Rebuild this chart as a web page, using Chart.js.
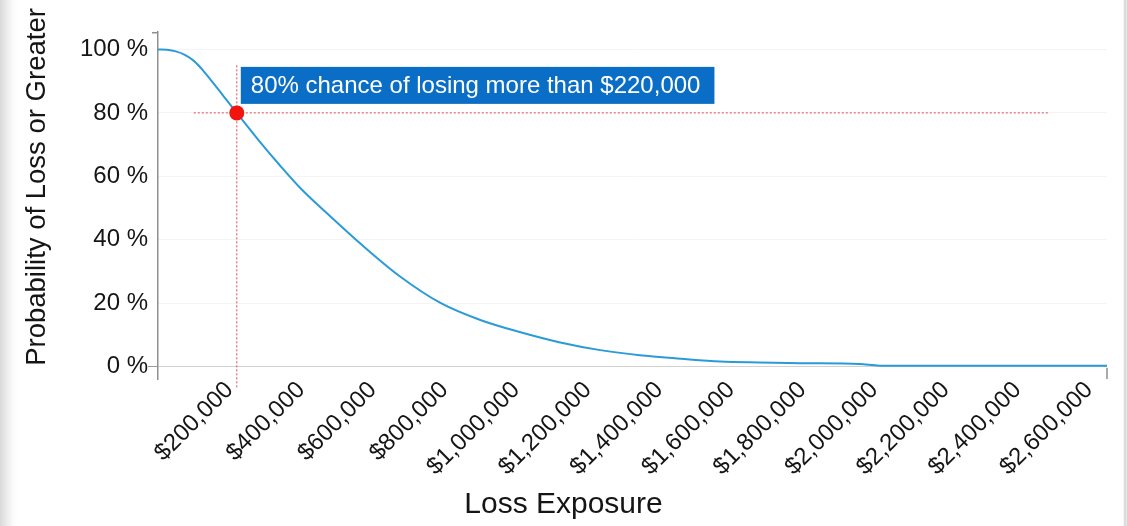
<!DOCTYPE html>
<html>
<head>
<meta charset="utf-8">
<title>Loss Exposure</title>
<script src="https://cdn.jsdelivr.net/npm/chart.js@4.4.1/dist/chart.umd.min.js"></script>
<style>
  html, body { margin: 0; padding: 0; }
  body {
    width: 1127px; height: 526px; overflow: hidden;
    background: linear-gradient(to right, #d9d9d9 0px, #ececec 7px, #fbfbfb 13px, #ffffff 18px, #ffffff 1123px, #d4d4d4 1125px, #ededed 1127px);
  }
  #wrap { position: relative; width: 1127px; height: 526px; }
</style>
</head>
<body>
<div id="wrap"><canvas id="c" width="1127" height="526"></canvas></div>
<script>
// Loss exceedance curve: probability (%) of a loss at or above each amount ($)
const lossExposure = [0, 25000, 50000, 75000, 100000, 125000, 150000, 185000, 220000, 280000, 340000, 400000, 480000, 565000, 675000, 790000, 900000, 1010000, 1120000, 1235000, 1345000, 1460000, 1570000, 1680000, 1795000, 1960000, 2015000, 2300000, 2650000];
const probability  = [100, 99.9, 99.4, 98.3, 96.4, 93.5, 90, 85, 80, 71.5, 63.5, 56, 47.5, 38.8, 28.5, 20, 14.7, 10.9, 7.7, 5.2, 3.6, 2.5, 1.6, 1.3, 1.1, 0.8, 0.3, 0.3, 0.3];

// Highlighted point and its guide lines
const highlightLoss = 220000;
const highlightProb = 80;
const guideLossSpan = [100000, 2490000];   // horizontal guide, along x
const guideProbSpan = [95, -6.8];          // vertical guide, along y

// Axis ticks and titles
const xTickValues = [200000, 400000, 600000, 800000, 1000000, 1200000, 1400000, 1600000, 1800000, 2000000, 2200000, 2400000, 2600000];
const yTickValues = [0, 20, 40, 60, 80, 100];
const xTitle = 'Loss Exposure';
const yTitle = 'Probability of Loss or Greater';

const FONT = "'Liberation Sans', Arial, Helvetica, sans-serif";
const INK = '#151515';
const AXIS_GRAY = '#8f8f8f';

// Small end caps on the axes (bracket at the top of y, tick at the right end of x)
const axisCaps = {
  id: 'axisCaps',
  afterDraw(chart) {
    const { ctx, chartArea, scales } = chart;
    ctx.save();
    ctx.strokeStyle = AXIS_GRAY;
    ctx.lineWidth = 1.5;
    ctx.beginPath();
    ctx.moveTo(chartArea.left - 6, chartArea.top + 0.75);
    ctx.lineTo(chartArea.left, chartArea.top + 0.75);
    const y0 = scales.y.getPixelForValue(0);
    ctx.moveTo(chartArea.right, y0 + 1);
    ctx.lineTo(chartArea.right, chartArea.bottom);
    ctx.stroke();
    ctx.restore();
  }
};

// Axis titles: x title centred on the page, y title beside the value axis
const axisTitles = {
  id: 'axisTitles',
  afterDraw(chart) {
    const { ctx } = chart;
    ctx.save();
    ctx.fillStyle = INK;
    ctx.textAlign = 'center';
    ctx.textBaseline = 'middle';
    ctx.font = '30px ' + FONT;
    ctx.fillText(xTitle, chart.width / 2, 505);
    ctx.translate(37, 187);
    ctx.rotate(-Math.PI / 2);
    ctx.font = '27.5px ' + FONT;
    ctx.fillText(yTitle, 0, 0);
    ctx.restore();
  }
};

// Call-out label beside the highlighted point
const callout = {
  id: 'callout',
  afterDatasetsDraw(chart) {
    const pt = chart.getDatasetMeta(0).data[0];
    if (!pt) return;
    const { ctx } = chart;
    const text = highlightProb + '% chance of losing more than $' + highlightLoss.toLocaleString('en-US');
    ctx.save();
    ctx.font = '24px ' + FONT;
    const w = ctx.measureText(text).width + 24;
    const h = 37;
    const left = pt.x + 4;
    const top = pt.y - 46;
    ctx.fillStyle = '#0b6ec6';
    ctx.fillRect(left, top, w, h);
    ctx.fillStyle = '#ffffff';
    ctx.textBaseline = 'middle';
    ctx.textAlign = 'left';
    ctx.fillText(text, left + 10, top + h / 2 + 1);
    ctx.restore();
  }
};

new Chart(document.getElementById('c'), {
  type: 'line',
  data: {
    datasets: [
      {
        label: 'Highlight',
        data: [{ x: highlightLoss, y: highlightProb }],
        showLine: false,
        pointRadius: 7.5,
        pointHoverRadius: 7.5,
        pointBorderWidth: 0,
        pointBackgroundColor: '#f2150f'
      },
      {
        label: yTitle,
        data: lossExposure.map((x, i) => ({ x, y: probability[i] })),
        borderColor: '#2b9bd8',
        borderWidth: 2,
        pointRadius: 0,
        fill: false,
        cubicInterpolationMode: 'monotone'
      },
      {
        label: 'Guide (probability)',
        data: guideLossSpan.map(x => ({ x, y: highlightProb })),
        borderColor: '#e5484d',
        borderWidth: 1,
        borderDash: [2, 2],
        pointRadius: 0,
        fill: false
      },
      {
        label: 'Guide (loss)',
        data: guideProbSpan.map(y => ({ x: highlightLoss, y })),
        borderColor: '#e5484d',
        borderWidth: 1,
        borderDash: [2, 2],
        pointRadius: 0,
        fill: false,
        clip: false
      }
    ]
  },
  options: {
    responsive: false,
    animation: false,
    devicePixelRatio: 1,
    layout: { padding: { left: 0, right: 20, top: 32, bottom: 0 } },
    plugins: { legend: { display: false }, tooltip: { enabled: false } },
    scales: {
      x: {
        type: 'linear',
        min: 0,
        max: 2650000,
        afterBuildTicks: s => { s.ticks = xTickValues.map(v => ({ value: v })); },
        afterFit: s => { s.height = 147; },
        grid: { display: false, drawTicks: false },
        border: { display: false },
        ticks: {
          autoSkip: false,
          minRotation: 45,
          maxRotation: 45,
          padding: -3,
          color: INK,
          font: { family: FONT, size: 24 },
          callback: v => '$' + Number(v).toLocaleString('en-US')
        },
        title: { display: false }
      },
      y: {
        type: 'linear',
        min: -3.9,
        max: 105.5,
        afterBuildTicks: s => { s.ticks = yTickValues.map(v => ({ value: v })); },
        afterFit: s => { s.width = 158; },
        grid: {
          color: c => (c.tick && c.tick.value === 0) ? '#d2d2d2' : '#f4f4f4',
          tickColor: c => (c.tick && c.tick.value === 0) ? '#9a9a9a' : 'rgba(0,0,0,0)',
          tickLength: 10,
          drawTicks: true,
          lineWidth: 1
        },
        border: { display: true, color: AXIS_GRAY, width: 1.5 },
        ticks: {
          padding: 0,
          color: INK,
          font: { family: FONT, size: 24 },
          callback: v => v + ' %'
        },
        title: { display: false }
      }
    }
  },
  plugins: [axisCaps, axisTitles, callout]
});
</script>
</body>
</html>
